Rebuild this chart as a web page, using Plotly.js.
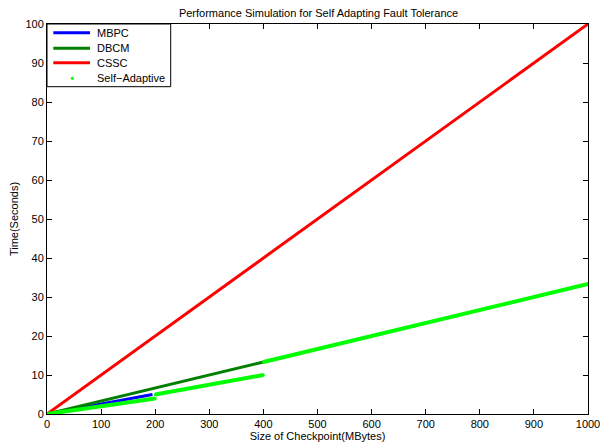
<!DOCTYPE html>
<html><head><meta charset="utf-8">
<script src="https://cdn.plot.ly/plotly-3.0.1.min.js"></script>
<style>body{margin:0;background:#fff}#c{width:601px;height:445px}</style>
</head><body><div id="c"></div>
<script>
var mbpcX = [0, 195];
var mbpcY = [0, 5];
var dbcmX = [0, 400];
var dbcmY = [0, 13.33];
var csscX = [0, 1000];
var csscY = [0, 100];
var selfX = [0, 200, null, 200, 400, null, 400, 1000];
var selfY = [0, 4, null, 5, 10, null, 13.33, 33.33];
var xTicks = [0,100,200,300,400,500,600,700,800,900,1000];
var yTicks = [0,10,20,30,40,50,60,70,80,90,100];
var seriesNames = ['MBPC', 'DBCM', 'CSSC', 'Self\u2212Adaptive'];
var seriesColors = ['#0000ff', '#007f00', '#ff0000', '#00ff00'];

var traces = [
  {x: mbpcX, y: mbpcY, mode:'lines', name:seriesNames[0], line:{color:seriesColors[0], width:3}},
  {x: dbcmX, y: dbcmY, mode:'lines', name:seriesNames[1], line:{color:seriesColors[1], width:3}},
  {x: csscX, y: csscY, mode:'lines', name:seriesNames[2], line:{color:seriesColors[2], width:3}},
  {x: selfX, y: selfY, mode:'lines+markers', name:seriesNames[3], line:{color:seriesColors[3], width:4}, marker:{color:seriesColors[3], size:3}}
];

// legend drawn as a box in paper coordinates (MATLAB-like compact spacing)
var pw = 541, ph = 390;
var rowsPx = [8.7, 24.3, 38.7, 54.3];
var shapes = [{type:'rect', xref:'paper', yref:'paper', x0:0, x1:123.7/pw, y0:1-62.7/ph, y1:1,
  line:{color:'#000', width:1}, fillcolor:'#fff', layer:'above'}];
var annotations = [];
rowsPx.forEach(function(r, i){
  var yy = 1 - r/ph;
  if (i < 3) {
    shapes.push({type:'line', xref:'paper', yref:'paper', x0:6.3/pw, x1:43/pw, y0:yy, y1:yy,
      line:{color:seriesColors[i], width:3}, layer:'above'});
  } else {
    shapes.push({type:'circle', xref:'paper', yref:'paper', x0:(25.3-1.5)/pw, x1:(25.3+1.5)/pw,
      y0:yy-1.5/ph, y1:yy+1.5/ph, line:{width:0}, fillcolor:seriesColors[i], layer:'above'});
  }
  annotations.push({xref:'paper', yref:'paper', x:48/pw, y:yy, xanchor:'left', yanchor:'middle',
    text:seriesNames[i], showarrow:false, font:{size:11, color:'#000'}});
});

var axisBase = {showgrid:false, zeroline:false, showline:true, linecolor:'#000', linewidth:1,
  mirror:'ticks', ticks:'inside', ticklen:5, tickcolor:'#000', automargin:false, ticklabeloverflow:'allow',
  tickfont:{family:'Liberation Sans, Arial, sans-serif', size:11, color:'#000'}};
var layout = {
  width:601, height:445,
  margin:{l:47, r:13, t:24, b:31},
  paper_bgcolor:'#fff', plot_bgcolor:'#fff',
  font:{family:'Liberation Sans, Arial, sans-serif', size:11, color:'#000'},
  title:{text:'Performance Simulation for Self Adapting Fault Tolerance', x:0.53, xanchor:'center', y:0.98, yanchor:'top', font:{size:11}},
  xaxis:Object.assign({}, axisBase, {range:[0,1000], tickvals:xTicks, ticktext:xTicks.map(String),
    title:{text:'Size of Checkpoint(MBytes)', standoff:2, font:{size:11}}}),
  yaxis:Object.assign({}, axisBase, {range:[0,100], tickvals:yTicks, ticktext:yTicks.map(String),
    title:{text:'Time(Seconds)', standoff:4, font:{size:11}}}),
  showlegend:false,
  shapes:shapes,
  annotations:annotations
};
Plotly.newPlot('c', traces, layout, {displayModeBar:false, staticPlot:true});
</script></body></html>
